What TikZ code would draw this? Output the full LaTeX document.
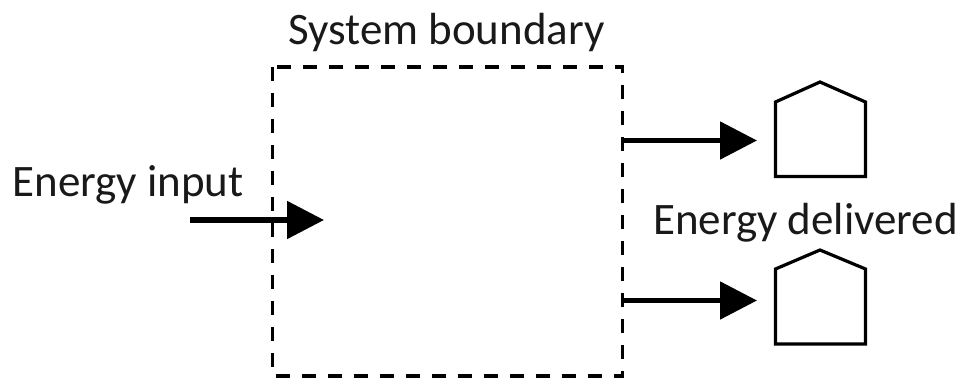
\documentclass[tikz,border=0pt]{standalone}
\usepackage{fontspec}
\setmainfont{Carlito}
\usetikzlibrary{arrows.meta}
\begin{document}
\begin{tikzpicture}[x=1pt,y=-1pt,
  lbl/.style={inner sep=0pt,font=\fontsize{45}{50}\selectfont,text=black!90},
  boundary/.style={draw,line width=3.2pt,dash pattern=on 14pt off 12pt},
  flow/.style={draw,line width=5.2pt,-{Triangle[length=37pt,width=37pt]}},
  house/.style={draw,line width=3.2pt,line join=miter}]
\useasboundingbox (0,0) rectangle (962,379);
\fill[white] (0,0) rectangle (962,379);
\node[lbl,anchor=base] (sb) at (446.5,44.5) {System boundary};
\node[lbl,anchor=base] (ei) at (128,196.5) {Energy input};
\node[lbl,anchor=base] (ed) at (805.5,234.5) {Energy delivered};
\coordinate (bTL) at (272.5,67);
\coordinate (bBR) at (622.5,376);
\draw[boundary] (bTL) rectangle (bBR);
\coordinate (inS) at (190,220);
\coordinate (inE) at (324,220);
\coordinate (o1S) at (624,140.5);
\coordinate (o1E) at (757,140.5);
\coordinate (o2S) at (624,300.5);
\coordinate (o2E) at (757,300.5);
\draw[flow] (inS) -- (inE);
\draw[flow] (o1S) -- (o1E);
\draw[flow] (o2S) -- (o2E);
\draw[house] (775.5,176.5) -- (775.5,102) -- (820,82) -- (865.5,102) -- (865.5,176.5) -- cycle;
\draw[house] (775.5,344) -- (775.5,269) -- (820,250) -- (865.5,269) -- (865.5,344) -- cycle;
\end{tikzpicture}
\end{document}
